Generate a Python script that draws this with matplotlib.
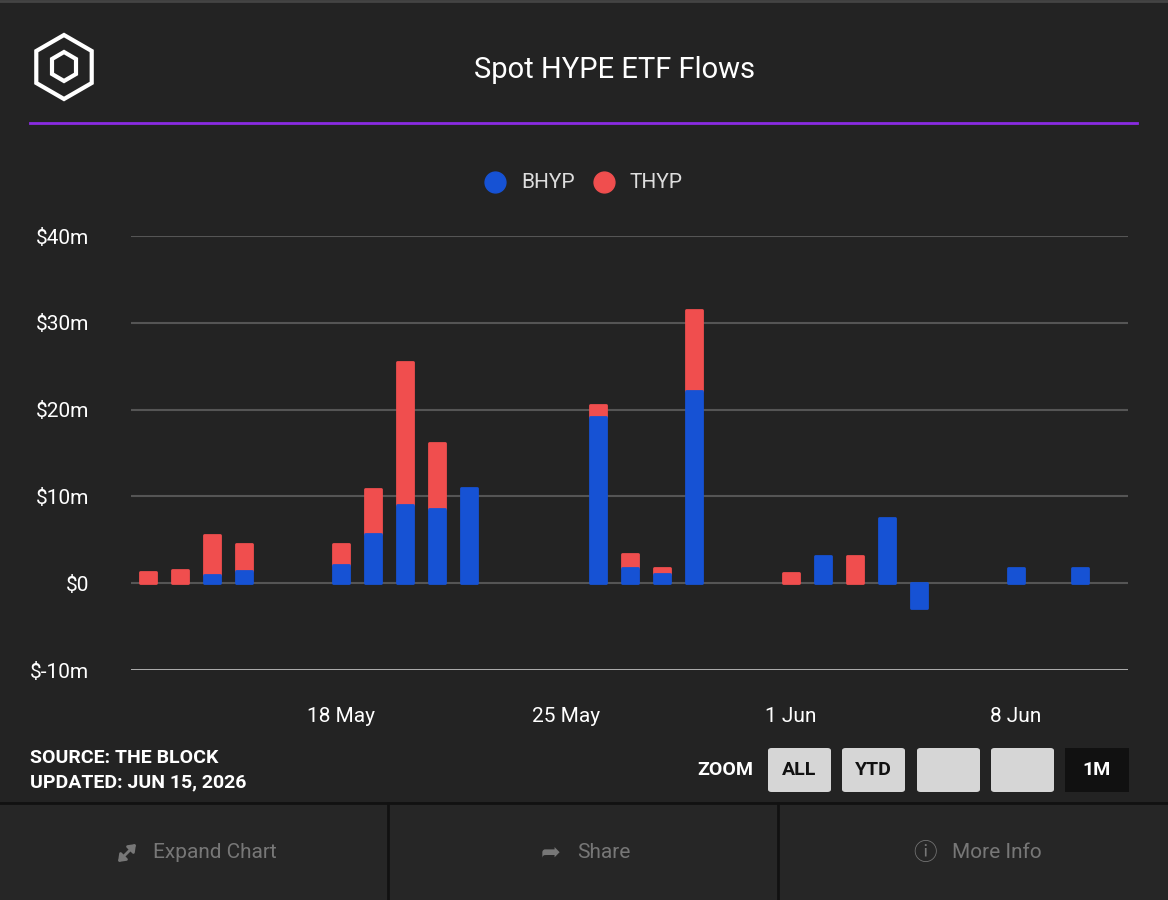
import numpy as np
import matplotlib.pyplot as plt
from matplotlib.patches import Rectangle, FancyBboxPatch, Polygon, FancyArrowPatch

# day offsets relative to 18 May
days = [-6, -5, -4, -3, 0, 1, 2, 3, 4, 8, 9, 10, 11, 14, 15, 16, 17, 18, 21, 23]
bhyp = [0, 0, 0.9, 1.4, 2.1, 5.7, 9.0, 8.5, 11.0, 19.1, 1.8, 1.1, 22.1, 0, 3.1, 0, 7.5, -2.8, 1.7, 1.7]
thyp = [1.3, 1.5, 4.7, 3.1, 2.4, 5.2, 16.5, 7.6, 0, 1.4, 1.6, 0.7, 9.4, 1.2, 0, 3.1, 0, 0, 0, 0]
tick_pos = [0, 7, 14, 21]
tick_labels = ['18 May', '25 May', '1 Jun', '8 Jun']
y_ticks = [-10, 0, 10, 20, 30, 40]
y_labels = ['$-10m', '$0', '$10m', '$20m', '$30m', '$40m']

BG = '#232323'
BLUE = '#1652d4'
RED = '#f04e4e'
W, H = 1168, 900

fig = plt.figure(figsize=(11.68, 9), dpi=100, facecolor=BG)
plt.rcParams['font.family'] = ['Roboto', 'DejaVu Sans']

def fx(x): return x / W
def fy(y): return 1 - y / H

# header
fig.text(fx(614), fy(70), 'Spot HYPE ETF Flows', color='white', fontsize=21, ha='center', va='center')
fig.add_artist(plt.Line2D([fx(30), fx(1137)], [fy(123), fy(123)], color='#8a2be2', lw=2))
fig.add_artist(plt.Line2D([0, 1], [fy(1), fy(1)], color='#444444', lw=2))
# logo (simple cube outline)
cx, cy = 64, 67
hexpts = [(cx + 32 * np.cos(a), cy + 32 * np.sin(a)) for a in np.radians(np.arange(30, 390, 60))]
fig.add_artist(Polygon([(fx(px), fy(py)) for px, py in hexpts], closed=True, fill=False, ec='white', lw=3))
fig.add_artist(Polygon([(fx(cx - 12), fy(cy - 8)), (fx(cx), fy(cy - 15)), (fx(cx + 12), fy(cy - 8)),
                        (fx(cx + 12), fy(cy + 7)), (fx(cx), fy(cy + 14)), (fx(cx - 12), fy(cy + 7))],
                       closed=True, fill=False, ec='white', lw=3))

# legend
for x, c, lbl in [(495, BLUE, 'BHYP'), (604, RED, 'THYP')]:
    fig.add_artist(plt.Line2D([fx(x)], [fy(182)], marker='o', ms=15, color=c, ls='none'))
    fig.text(fx(x + 26), fy(182), lbl, color='#dddddd', fontsize=15, va='center')

# axes
ax = fig.add_axes([fx(131), fy(670), fx(1128 - 131), fy(236) - fy(670)])
ax.set_facecolor(BG)
d = np.array(days)
b = np.array(bhyp)
t = np.array(thyp)
mb = b != 0
mt = t != 0
ax.bar(d[mb], b[mb], width=0.5, color=BLUE, ec=BLUE, lw=2, joinstyle='round', zorder=3)
ax.bar(d[mt], t[mt], width=0.5, bottom=np.maximum(b, 0)[mt], color=RED, ec=RED, lw=2,
       joinstyle='round', zorder=2)
ax.set_xlim(-6.53, 24.49)
ax.set_ylim(-10, 40)
ax.set_yticks(y_ticks)
ax.set_yticklabels(y_labels)
ax.set_xticks(tick_pos)
ax.set_xticklabels(tick_labels)
for y in y_ticks:
    ax.axhline(y, color='#bbbbbb' if y == -10 else '#555555', lw=2 if y == -10 else 1.5, zorder=1)
for s in ax.spines.values():
    s.set_visible(False)
ax.tick_params(length=0, colors='white', labelsize=15)
ax.tick_params(axis='y', pad=30)
ax.tick_params(axis='x', pad=27)

# footer
fig.text(fx(30), fy(758), 'SOURCE: THE BLOCK', color='white', fontsize=14, weight='bold', va='center')
fig.text(fx(30), fy(782), 'UPDATED: JUN 15, 2026', color='white', fontsize=14, weight='bold', va='center')
fig.text(fx(697), fy(770), 'ZOOM', color='white', fontsize=14, weight='bold', va='center')
for x, lbl in [(768, 'ALL'), (842, 'YTD'), (917, ''), (991, '')]:
    fig.add_artist(FancyBboxPatch((fx(x), fy(792)), fx(63), fy(748) - fy(792),
                                  boxstyle='round,pad=0,rounding_size=0.003', fc='#d6d6d6', ec='none'))
    fig.text(fx(x + 31), fy(770), lbl, color='#111111', fontsize=14, weight='bold', ha='center', va='center')
fig.add_artist(Rectangle((fx(1065), fy(792)), fx(64), fy(748) - fy(792), fc='#111111', ec='none'))
fig.text(fx(1097), fy(770), '1M', color='white', fontsize=14, weight='bold', ha='center', va='center')

fig.add_artist(Rectangle((0, 0), 1, fy(803), fc='#262626', ec='none'))
fig.add_artist(plt.Line2D([0, 1], [fy(803), fy(803)], color='#111111', lw=2))
for x in [388, 778]:
    fig.add_artist(plt.Line2D([fx(x), fx(x)], [0, fy(803)], color='#111111', lw=2))
icon_fam = ['DejaVu Sans', 'Noto Sans CJK SC']
# expand icon drawn as a double arrow
fig.add_artist(FancyArrowPatch((fx(116), fy(864)), (fx(138), fy(842)), transform=fig.transFigure,
                               arrowstyle='<|-|>,head_length=4,head_width=3', color='#777777', lw=2))
for xi, icon, xt, lbl in [(551, '➦', 577, 'Share'), (925, 'ⓘ', 952, 'More Info')]:
    fig.text(fx(xi), fy(853), icon, color='#777777', fontsize=17, ha='center', va='center', family=icon_fam)
for xt, lbl in [(153, 'Expand Chart'), (577, 'Share'), (952, 'More Info')]:
    fig.text(fx(xt), fy(853), lbl, color='#777777', fontsize=15, ha='left', va='center')

fig.savefig('out.png', dpi=100, facecolor=BG)
